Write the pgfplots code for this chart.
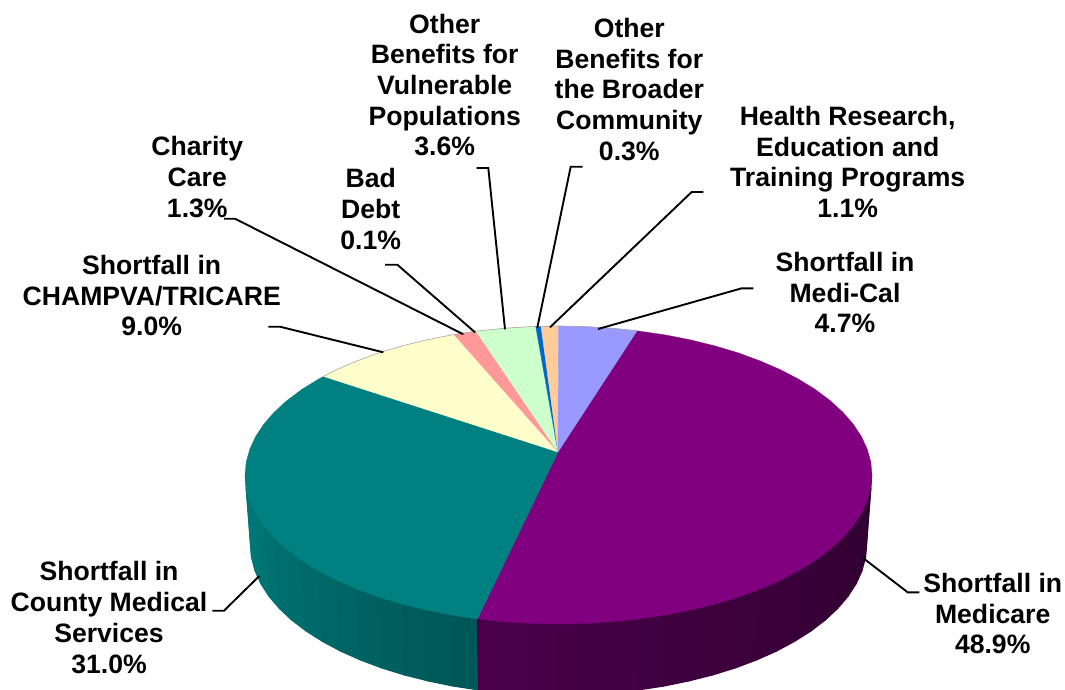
\documentclass[border=0pt]{standalone}
\usepackage{fontspec}
\setmainfont{Liberation Sans}
\usepackage{pgfplots}
\pgfplotsset{compat=1.18}
\definecolor{cPurple}{RGB}{128,0,128}
\definecolor{cTeal}{RGB}{0,128,128}
\definecolor{cCream}{RGB}{255,255,204}
\definecolor{cPink}{RGB}{255,153,153}
\definecolor{cGreen}{RGB}{204,255,204}
\definecolor{cBlue}{RGB}{0,102,204}
\definecolor{cOrange}{RGB}{255,204,153}
\definecolor{cLav}{RGB}{153,153,255}
\tikzset{lbl/.style={font=\fontsize{26.6}{30.7}\selectfont\bfseries,align=center,inner sep=0pt,outer sep=0pt,text=black,anchor=center}}
\pgfplotsset{wedge/.style={fill=#1,draw=#1,line width=0.3pt,line join=round,mark=none},
 sidew/.style={fill=#1,draw=#1,line width=1.2pt,line join=round,mark=none},
 lead/.style={draw=black,line width=1.9pt,line join=miter,mark=none}}
\newcommand{\T}[5]{\addplot[sidew=cTeal!#1!black] coordinates {#2#3#4#5} --cycle;}
\newcommand{\Pu}[5]{\addplot[sidew=cPurple!#1!black] coordinates {#2#3#4#5} --cycle;}
\begin{document}
\begin{tikzpicture}
\begin{axis}[hide axis,scale only axis,width=1065pt,height=690pt,xmin=0,xmax=1065,ymin=0,ymax=690,y dir=reverse,clip=true]
\addplot[draw=none,mark=none] coordinates {(0,0)(1065,690)};
% side wall, teal
\T{96}{(250.5,545)}{(251.7,558.1)}{(246.2,488)}{(245.5,475)}
\T{94}{(251.7,558.1)}{(255.2,571)}{(249.8,500.9)}{(246.2,488)}
\T{92}{(255.2,571)}{(261,583.8)}{(255.7,513.6)}{(249.8,500.9)}
\T{90}{(261,583.8)}{(269.1,596.3)}{(263.9,526)}{(255.7,513.6)}
\T{88}{(269.1,596.3)}{(279.4,608.4)}{(274.4,538)}{(263.9,526)}
\T{86}{(279.4,608.4)}{(291.8,620)}{(287,549.5)}{(274.4,538)}
\T{84}{(291.8,620)}{(306.2,631)}{(301.7,560.5)}{(287,549.5)}
\T{82}{(306.2,631)}{(322.6,641.4)}{(318.4,570.8)}{(301.7,560.5)}
\T{80}{(322.6,641.4)}{(340.7,651.1)}{(336.8,580.4)}{(318.4,570.8)}
\T{78}{(340.7,651.1)}{(360.5,659.9)}{(357,589.1)}{(336.8,580.4)}
\T{76}{(360.5,659.9)}{(381.8,667.9)}{(378.7,597.1)}{(357,589.1)}
\T{74}{(381.8,667.9)}{(404.5,674.9)}{(401.7,604)}{(378.7,597.1)}
\T{72}{(404.5,674.9)}{(428.3,680.9)}{(426,610)}{(401.7,604)}
\T{70}{(428.3,680.9)}{(453.2,686)}{(451.3,615)}{(426,610)}
\T{68}{(453.2,686)}{(478.8,689.9)}{(477.4,618.9)}{(451.3,615)}
% side wall, purple
\Pu{57}{(478.8,689.9)}{(505,692.7)}{(504.1,621.7)}{(477.4,618.9)}
\Pu{56}{(505,692.7)}{(531.6,694.4)}{(531.2,623.4)}{(504.1,621.7)}
\Pu{55}{(531.6,694.4)}{(558.5,695)}{(558.5,624)}{(531.2,623.4)}
\Pu{54}{(558.5,695)}{(585.4,694.4)}{(585.8,623.4)}{(558.5,624)}
\Pu{53}{(585.4,694.4)}{(612,692.7)}{(612.9,621.7)}{(585.8,623.4)}
\Pu{52}{(612,692.7)}{(638.2,689.9)}{(639.6,618.9)}{(612.9,621.7)}
\Pu{51}{(638.2,689.9)}{(663.8,686)}{(665.7,615)}{(639.6,618.9)}
\Pu{50}{(663.8,686)}{(688.7,680.9)}{(691,610)}{(665.7,615)}
\Pu{49}{(688.7,680.9)}{(712.5,674.9)}{(715.3,604)}{(691,610)}
\Pu{48}{(712.5,674.9)}{(735.2,667.9)}{(738.3,597.1)}{(715.3,604)}
\Pu{47}{(735.2,667.9)}{(756.5,659.9)}{(760,589.1)}{(738.3,597.1)}
\Pu{46}{(756.5,659.9)}{(776.3,651.1)}{(780.2,580.4)}{(760,589.1)}
\Pu{45}{(776.3,651.1)}{(794.4,641.4)}{(798.6,570.8)}{(780.2,580.4)}
\Pu{44}{(794.4,641.4)}{(810.8,631)}{(815.3,560.5)}{(798.6,570.8)}
\Pu{43}{(810.8,631)}{(825.2,620)}{(830,549.5)}{(815.3,560.5)}
\Pu{42}{(825.2,620)}{(837.6,608.4)}{(842.6,538)}{(830,549.5)}
\Pu{41}{(837.6,608.4)}{(847.9,596.3)}{(853.1,526)}{(842.6,538)}
\Pu{40}{(847.9,596.3)}{(856,583.8)}{(861.3,513.6)}{(853.1,526)}
\Pu{39}{(856,583.8)}{(861.8,571)}{(867.2,500.9)}{(861.3,513.6)}
\Pu{38}{(861.8,571)}{(865.3,558.1)}{(870.8,488)}{(867.2,500.9)}
\Pu{37}{(865.3,558.1)}{(866.5,545)}{(871.5,475)}{(870.8,488)}
% top faces
\addplot[wedge=cPurple] coordinates {(558,452)(637,330.8)(665.7,335)(691,340)(715.3,346)(738.3,352.9)(760,360.9)(780.2,369.6)(798.6,379.2)(815.3,389.5)(830,400.5)(842.6,412)(853.1,424)(861.3,436.4)(867.2,449.1)(870.8,462)(872,475)(870.8,488)(867.2,500.9)(861.3,513.6)(853.1,526)(842.6,538)(830,549.5)(815.3,560.5)(798.6,570.8)(780.2,580.4)(760,589.1)(738.3,597.1)(715.3,604)(691,610)(665.7,615)(639.6,618.9)(612.9,621.7)(585.8,623.4)(558.5,624)(531.2,623.4)(504.1,621.7)(477.4,618.9)} --cycle;
\addplot[wedge=cTeal] coordinates {(558,452)(477.4,618.9)(451.3,615)(426,610)(401.7,604)(378.7,597.1)(357,589.1)(336.8,580.4)(318.4,570.8)(301.7,560.5)(287,549.5)(274.4,538)(263.9,526)(255.7,513.6)(249.8,500.9)(246.2,488)(245,475)(246.2,462)(249.8,449.1)(255.7,436.4)(263.9,424)(274.4,412)(287,400.5)(301.7,389.5)(318.4,379.2)(323.5,376.4)} --cycle;
\addplot[wedge=cCream] coordinates {(558,452)(323.5,376.4)(336.8,369.6)(357,360.9)(378.7,352.9)(401.7,346)(426,340)(451.3,335)(454,334.5)} --cycle;
\addplot[wedge=cPink] coordinates {(558,452)(454,334.5)(476,331.2)} --cycle;
\addplot[wedge=cGreen] coordinates {(558,452)(476,331.2)(504.1,328.3)(531.2,326.6)(535.7,326.4)} --cycle;
\addplot[wedge=cBlue] coordinates {(558,452)(535.7,326.4)(541,326.2)} --cycle;
\addplot[wedge=cOrange] coordinates {(558,452)(541,326.2)(558.5,326)} --cycle;
\addplot[wedge=cLav] coordinates {(558,452)(558.5,326)(585.8,326.6)(612.9,328.3)(637,330.8)} --cycle;
% faint rim
\addplot[draw=gray!70,line width=0.6pt,mark=none] coordinates {(323.5,376.4)(336.8,369.6)(357,360.9)(378.7,352.9)(401.7,346)(426,340)(451.3,335)(476,331.2)(504.1,328.3)(531.2,326.6)(558.5,326)(585.8,326.6)(612.9,328.3)(637,330.8)};
% leader lines
\addplot[lead] coordinates {(476.7,168)(488.3,168)(505,329.3)};
\addplot[lead] coordinates {(582.7,166.7)(570.7,166.7)(537.3,327.7)};
\addplot[lead] coordinates {(703.3,192)(691.7,192)(550,327.3)};
\addplot[lead] coordinates {(224,218.7)(235,218.7)(463.3,334.3)};
\addplot[lead] coordinates {(385,264.7)(397.3,264.7)(475,332.3)};
\addplot[lead] coordinates {(268.3,326.7)(280,326.7)(383.3,352.3)};
\addplot[lead] coordinates {(753.3,288.3)(741.7,288.3)(598,329)};
\addplot[lead] coordinates {(919.3,592.3)(907.7,592.3)(863,558)};
\addplot[lead] coordinates {(212.3,610.7)(224,610.7)(259.3,576)};
% labels
\node[lbl] at (axis cs:444.7,85) {Other\\Benefits for\\Vulnerable\\Populations\\3.6\%};
\node[lbl] at (axis cs:629.3,89.5) {Other\\Benefits for\\the Broader\\Community\\0.3\%};
\node[lbl] at (axis cs:847.7,162) {Health Research,\\Education and\\Training Programs\\1.1\%};
\node[lbl] at (axis cs:845,292.5) {Shortfall in\\Medi-Cal\\4.7\%};
\node[lbl] at (axis cs:992.7,613.5) {Shortfall in\\Medicare\\48.9\%};
\node[lbl] at (axis cs:109,617.5) {Shortfall in\\County Medical\\Services\\31.0\%};
\node[lbl] at (axis cs:151.7,295.5) {Shortfall in\\CHAMPVA/TRICARE\\9.0\%};
\node[lbl] at (axis cs:197.3,177) {Charity\\Care\\1.3\%};
\node[lbl] at (axis cs:370.7,209) {Bad\\Debt\\0.1\%};
\end{axis}
\end{tikzpicture}
\end{document}
